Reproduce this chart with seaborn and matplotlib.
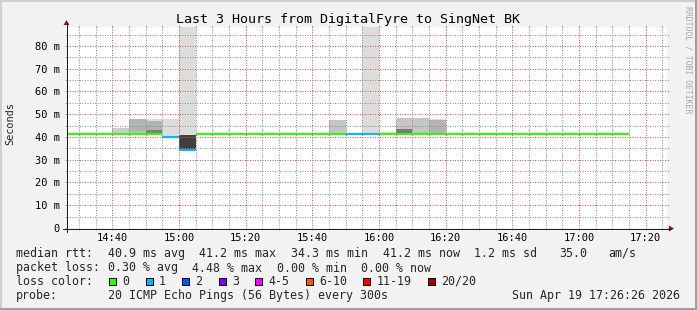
import matplotlib
matplotlib.use("Agg")
import matplotlib.pyplot as plt
from matplotlib.patches import Rectangle, Polygon
from matplotlib.lines import Line2D
from matplotlib.ticker import FixedLocator, FixedFormatter, MultipleLocator
import numpy as np
import pandas as pd
import seaborn as sns

# ---------------- data ----------------
title = "Last 3 Hours from DigitalFyre to SingNet BK"
view_start = "14:26:26"
view_end = "17:26:26"

bin_start = ["14:25", "14:30", "14:35", "14:40", "14:45", "14:50", "14:55",
             "15:00", "15:05", "15:10", "15:15", "15:20", "15:25", "15:30",
             "15:35", "15:40", "15:45", "15:50", "15:55", "16:00", "16:05",
             "16:10", "16:15", "16:20", "16:25", "16:30", "16:35", "16:40",
             "16:45", "16:50", "16:55", "17:00", "17:05", "17:10"]
median_ms = [41.2, 41.2, 41.2, 41.2, 41.2, 41.2, 40.1,
             34.3, 41.2, 41.2, 41.2, 41.2, 41.2, 41.2,
             41.2, 41.2, 41.2, 41.2, 41.2, 41.2, 41.2,
             41.2, 41.2, 41.2, 41.2, 41.2, 41.2, 41.2,
             41.2, 41.2, 41.2, 41.2, 41.2, 41.2]
loss_count = [0, 0, 0, 0, 0, 0, 1,
              1, 0, 0, 0, 0, 0, 0,
              0, 0, 0, 1, 1, 0, 0,
              0, 0, 0, 0, 0, 0, 0,
              0, 0, 0, 0, 0, 0]

# smoke (ping spread) segments per bin
smoke_bin = ["14:40", "14:45", "14:45", "14:50", "14:50", "14:50", "14:55",
             "15:00", "15:00", "15:40", "15:45", "15:55", "16:00", "16:05",
             "16:05", "16:10", "16:10", "16:15", "16:15", "16:40", "16:45"]
smoke_low = [41.2, 41.2, 42.4, 41.2, 43.0, 47.1, 40.4,
             34.6, 41.0, 41.2, 41.2, 41.2, 41.2, 41.2,
             43.4, 41.2, 42.0, 41.2, 47.4, 41.2, 41.2]
smoke_high = [44.0, 42.4, 47.8, 43.0, 47.1, 48.0, 47.8,
              41.0, 95.0, 41.9, 47.4, 95.0, 42.1, 43.4,
              48.4, 42.0, 48.4, 47.4, 47.8, 41.7, 41.7]
smoke_shade = ["#cbcbcb", "#bdbdbd", "#b3b3b3", "#7f7f7f", "#b3b3b3", "#dcdcdc", "#dcdcdc",
               "#404040", "#dcdcdc", "#dcdcdc", "#c6c6c6", "#dcdcdc", "#dcdcdc", "#7a7a7a",
               "#c6c6c6", "#bdbdbd", "#c6c6c6", "#b3b3b3", "#dcdcdc", "#dcdcdc", "#dcdcdc"]

loss_labels = ["0", "1", "2", "3", "4-5", "6-10", "11-19", "20/20"]
loss_colors = ["#26ff00", "#00b8ff", "#0059ff", "#7e00ff", "#ff00ff", "#ff5500", "#ff0000", "#a10000"]

x_tick_labels = ["14:40", "15:00", "15:20", "15:40", "16:00", "16:20", "16:40", "17:00", "17:20"]
y_tick_values = [0, 10, 20, 30, 40, 50, 60, 70, 80]

rtt_label = "median rtt:"
rtt_stats = ["40.9 ms avg", "41.2 ms max", "34.3 ms min", "41.2 ms now", "1.2 ms sd", "35.0", "am/s"]
loss_label = "packet loss:"
loss_stats = ["0.30 % avg", "4.48 % max", "0.00 % min", "0.00 % now"]
color_label = "loss color:"
probe_label = "probe:"
probe_text = "20 ICMP Echo Pings (56 Bytes) every 300s"
stamp_text = "Sun Apr 19 17:26:26 2026"
y_unit = "Seconds"
watermark = "RRDTOOL / TOBI OETIKER"
step_min = 5

# ---------------- helpers ----------------
def to_min(s):
    parts = [int(p) for p in s.split(":")]
    m = (parts[0] - 14) * 60 + parts[1]
    if len(parts) > 2:
        m += parts[2] / 60.0
    return m

W, H = 697, 310

def fx(x):
    return x / W

def fy(y):
    return 1 - y / H

sns.set_theme(style="white")
plt.rcParams["font.family"] = ["DejaVu Sans Mono", "DejaVu Sans"]

fig = plt.figure(figsize=(W / 100, H / 100), dpi=100)
fig.patch.set_facecolor("#f2f2f2")

X0, X1, YT, YB = 67, 667, 27, 228
ax = fig.add_axes([fx(X0), fy(YB), (X1 - X0) / W, (YB - YT) / H])
ax.set_facecolor("white")
for s in ax.spines.values():
    s.set_visible(False)

xmin, xmax = to_min(view_start), to_min(view_end)
ax.set_xlim(xmin, xmax)
ax.set_ylim(0, 88.3)

# smoke
sx = [to_min(b) for b in smoke_bin]
ax.bar(sx, np.array(smoke_high) - np.array(smoke_low), bottom=smoke_low,
       width=step_min, align="edge", color=smoke_shade, linewidth=0, zorder=1)

# median line, colored by loss
rows = []
for i, (b, m, l) in enumerate(zip(bin_start, median_ms, loss_count)):
    t0 = to_min(b)
    rows.append({"t": t0, "ms": m, "loss": loss_labels[l], "seg": i})
    rows.append({"t": t0 + step_min, "ms": m, "loss": loss_labels[l], "seg": i})
df = pd.DataFrame(rows)
pal = dict(zip(loss_labels, loss_colors))
sns.lineplot(data=df, x="t", y="ms", hue="loss", units="seg", estimator=None,
             palette=pal, linewidth=1.5, legend=False, ax=ax, zorder=4,
             solid_capstyle="butt")
ax.set_xlabel("")
ax.set_ylabel("")

# grid
grid_c, mgrid_c = (0.56, 0.56, 0.56, 0.26), (0.87, 0.31, 0.31, 0.30)
grid_t, mgrid_t = (0.56, 0.56, 0.56, 0.6), (0.87, 0.31, 0.31, 0.6)
xt = [to_min(t) for t in x_tick_labels]
ax.xaxis.set_major_locator(FixedLocator(xt))
ax.xaxis.set_major_formatter(FixedFormatter(x_tick_labels))
ax.xaxis.set_minor_locator(MultipleLocator(5))
ax.yaxis.set_major_locator(FixedLocator(y_tick_values))
ax.yaxis.set_major_formatter(FixedFormatter(["0" if v == 0 else f"{v} m" for v in y_tick_values]))
ax.yaxis.set_minor_locator(MultipleLocator(5))
ax.set_axisbelow(False)
ax.grid(which="major", color=mgrid_c, linestyle=(0, (1, 1.5)), linewidth=0.72)
ax.grid(which="minor", color=grid_c, linestyle=(0, (1, 1.5)), linewidth=0.72)
ax.tick_params(which="major", length=1.5, width=0.72, color=mgrid_t, direction="out",
               top=True, right=True, bottom=True, left=True, labelsize=7.5, labelcolor="black")
ax.tick_params(which="minor", length=1.5, width=0.72, color=grid_t, direction="out",
               top=True, right=True, bottom=True, left=True)
ax.tick_params(axis="x", which="major", pad=2.0)
ax.tick_params(axis="y", which="major", pad=3.5)

# axes lines and arrows
axis_c, arrow_c = "#1f1f1f", "#801f1f"
fig.add_artist(Line2D([fx(X0 - 4), fx(X1 + 4)], [fy(YB + 0.5), fy(YB + 0.5)], color=axis_c, lw=0.72))
fig.add_artist(Line2D([fx(X0 - 0.5), fx(X0 - 0.5)], [fy(YB + 4), fy(YT - 4)], color=axis_c, lw=0.72))
fig.add_artist(Polygon([(fx(X1 + 2), fy(YB + 0.5 - 3)), (fx(X1 + 2), fy(YB + 0.5 + 3)), (fx(X1 + 7), fy(YB + 0.5))],
                       closed=True, color=arrow_c, lw=0))
fig.add_artist(Polygon([(fx(X0 - 3.5), fy(YT - 2)), (fx(X0 + 2.5), fy(YT - 2)), (fx(X0 - 0.5), fy(YT - 7))],
                       closed=True, color=arrow_c, lw=0))

# frame shading
fig.add_artist(Rectangle((0, fy(2)), 1, 2 / H, color="#cfcfcf", lw=0))
fig.add_artist(Rectangle((0, 0), 2 / W, 1, color="#cfcfcf", lw=0))
fig.add_artist(Rectangle((0, 0), 1, 2 / H, color="#9e9e9e", lw=0))
fig.add_artist(Rectangle((fx(W - 2), 0), 2 / W, 1, color="#9e9e9e", lw=0))

# texts
fig.text(fx(347.5), fy(19), title, ha="center", va="center", fontsize=9.6, color="black")
fig.text(fx(10.5), fy(124), y_unit, ha="center", va="center", rotation=90, fontsize=7.4)
fig.text(fx(688), fy(60), watermark, ha="center", va="center", rotation=270, fontsize=5.9, color="#a8a8a8")

LF = 8.4
CW = 7.05
rows_y = [253.5, 268, 281.5, 295.5]

def col(c):
    return 16 + c * CW

fig.text(fx(16), fy(rows_y[0]), rtt_label, ha="left", va="center", fontsize=LF)
for txt, c in zip(rtt_stats, [13, 26, 39, 52, 65, 77, 84]):
    fig.text(fx(col(c)), fy(rows_y[0]), txt, ha="left", va="center", fontsize=LF)
fig.text(fx(16), fy(rows_y[1]), loss_label, ha="left", va="center", fontsize=LF)
for txt, c in zip(loss_stats, [13, 25, 37, 49]):
    fig.text(fx(col(c)), fy(rows_y[1]), txt, ha="left", va="center", fontsize=LF)
fig.text(fx(16), fy(rows_y[2]), color_label, ha="left", va="center", fontsize=LF)
sq_x = [109, 145.5, 182, 218.5, 255, 305.5, 363, 428]
for lab, colr, x in zip(loss_labels, loss_colors, sq_x):
    fig.add_artist(Rectangle((fx(x), fy(rows_y[2] + 3.5)), 7 / W, 7 / H, facecolor=colr,
                             edgecolor="black", lw=0.72))
    fig.text(fx(x + 13.5), fy(rows_y[2]), lab, ha="left", va="center", fontsize=LF)
fig.text(fx(16), fy(rows_y[3]), probe_label, ha="left", va="center", fontsize=LF)
fig.text(fx(col(13)), fy(rows_y[3]), probe_text, ha="left", va="center", fontsize=LF)
fig.text(fx(680), fy(rows_y[3]), stamp_text, ha="right", va="center", fontsize=LF)

fig.savefig("out.png", dpi=100, facecolor=fig.get_facecolor())
